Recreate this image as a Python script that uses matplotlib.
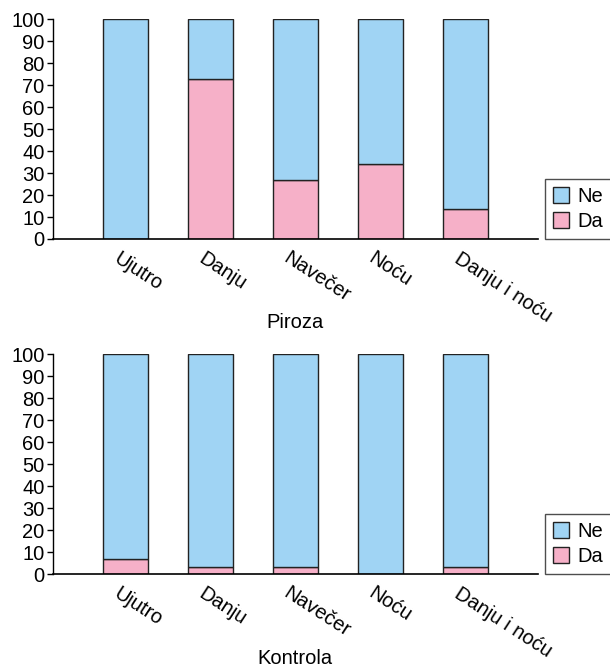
import matplotlib.pyplot as plt
import numpy as np

plt.rcParams['font.family'] = ['Liberation Sans', 'DejaVu Sans']

categories = ['Ujutro', 'Danju', 'Navečer', 'Noću', 'Danju i noću']
piroza_da = [0, 73, 27, 34, 13.5]
kontrola_da = [7, 3, 3, 0, 3]
groups = [('Piroza', piroza_da), ('Kontrola', kontrola_da)]

blue = '#a0d4f4'
pink = '#f6b0c8'
fs = 14.5

fig = plt.figure(figsize=(6.1, 6.68), dpi=100)
W, H = 610, 668

# pixel rows of the 100 and 0 gridlines for each panel
frames = [(19.5, 239), (354.3, 574)]
x = np.arange(len(categories))

for (name, da), (ytop, ybot) in zip(groups, frames):
    ax = fig.add_axes([53 / W, 1 - ybot / H, (537.5 - 53) / W, (ybot - ytop) / H])
    ne = [100 - v for v in da]
    ax.bar(x, da, width=0.53, color=pink, edgecolor='#222222', linewidth=1, label='Da')
    ax.bar(x, ne, bottom=da, width=0.53, color=blue, edgecolor='#222222', linewidth=1, label='Ne')
    ax.set_xlim(-0.85, 4.85)
    ax.set_ylim(0, 100)
    ax.set_yticks(range(0, 101, 10))
    ax.tick_params(axis='y', length=4, width=1, pad=2, labelsize=fs)
    ax.tick_params(axis='x', length=0, pad=7)
    ax.set_xticks(x - 0.05)
    ax.set_xticklabels(categories, rotation=-33, ha='left', va='top',
                       rotation_mode='anchor', fontsize=fs)
    ax.spines['top'].set_visible(False)
    ax.spines['right'].set_visible(False)
    ax.spines['left'].set_linewidth(1)
    ax.spines['bottom'].set_linewidth(1.2)
    fig.text(295 / W, 1 - (ybot + 84) / H, name, ha='center', va='center', fontsize=fs)

    h, l = ax.get_legend_handles_labels()
    leg = fig.legend(h[::-1], l[::-1], loc='lower left',
                     bbox_to_anchor=(545 / W, 1 - ybot / H),
                     frameon=True, fancybox=False, borderaxespad=0,
                     handlelength=0.8, handleheight=0.8, handletextpad=0.4,
                     labelspacing=0.3, borderpad=0.4, fontsize=fs)
    leg.get_frame().set_edgecolor('#222222')
    leg.get_frame().set_linewidth(1)

fig.savefig('out.png', dpi=100)
